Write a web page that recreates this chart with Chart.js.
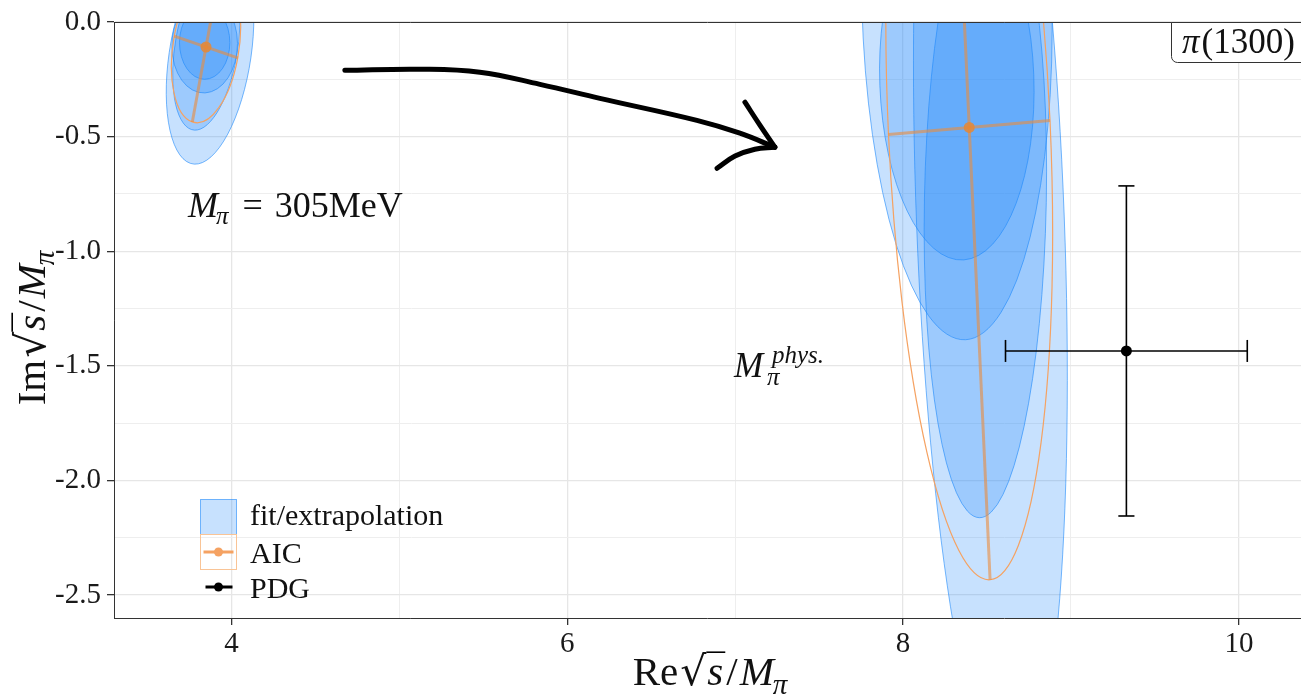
<!DOCTYPE html>
<html>
<head>
<meta charset="utf-8">
<script src="https://cdn.jsdelivr.net/npm/chart.js@4.4.0/dist/chart.umd.min.js"></script>
<style>
  html, body { margin: 0; padding: 0; background: #fff; }
  #wrap { width: 1301px; height: 697px; position: relative; }
</style>
</head>
<body>
<div id="wrap"><canvas id="chart"></canvas></div>
<script>
// fit/extrapolation confidence regions (centre, semi-axes, tilt in degrees)
const fitCx  = [3.872, 3.850, 3.840, 3.840, 8.520, 8.320, 8.490, 8.320];
const fitCy  = [-0.145, -0.110, -0.100, -0.090, -0.865, 0.095, -0.777, -0.254];
const fitRx  = [0.240, 0.185, 0.195, 0.150, 0.440, 0.566, 0.363, 0.459];
const fitRy  = [0.486, 0.370, 0.210, 0.160, 2.485, 1.482, 1.386, 0.785];
const fitRot = [-14, -14, -10, 0, 3, 2, -1.5, 3];

// AIC average (centre, semi-axes, tilt)
const aicCx  = [3.848, 8.394];
const aicCy  = [-0.109, -0.460];
const aicRx  = [0.195, 0.482];
const aicRy  = [0.337, 1.977];
const aicRot = [-14, 3.6];

// PDG pi(1300)
const pdgX    = [9.33];
const pdgY    = [-1.435];
const pdgXErr = [0.72];
const pdgYErr = [0.72];

// hand drawn arrow
const arrowX   = [4.675, 5.122, 5.479, 5.837, 6.194, 6.772, 7.028, 7.236];
const arrowY   = [-0.211, -0.206, -0.219, -0.272, -0.333, -0.429, -0.485, -0.546];
const barbUpX  = [7.058, 7.148, 7.236];
const barbUpY  = [-0.350, -0.451, -0.546];
const barbLoX  = [6.892, 6.999, 7.117, 7.236];
const barbLoY  = [-0.638, -0.585, -0.555, -0.546];

const xTicks = [4, 6, 8, 10];
const xTickLabels = ['4', '6', '8', '10'];
const yTicks = [0, -0.5, -1, -1.5, -2, -2.5];
const yTickLabels = ['0.0', '-0.5', '-1.0', '-1.5', '-2.0', '-2.5'];

const SERIF = '"Liberation Serif", "Times New Roman", serif';
const BLUE_FILL = 'rgba(30,136,250,0.25)';
const BLUE_EDGE = 'rgba(30,136,250,0.6)';
const ORANGE = '#f5a262';
const capSize = 0.048;

function pts(xs, ys) {
    return xs.map((x, i) => ({ x: x, y: ys[i] }));
}

function line(data, color, width, extra) {
    return Object.assign({
        data: data, showLine: true, borderColor: color, borderWidth: width,
        pointRadius: 0, clip: 0
    }, extra || {});
}

// AIC cross = principal axes of the AIC ellipse
const aicLines = [];
aicCx.forEach((cx, i) => {
    const r = aicRot[i] * Math.PI / 180;
    const cy = aicCy[i];
    aicLines.push(line([
        { x: cx + aicRy[i] * Math.sin(r), y: cy - aicRy[i] * Math.cos(r) },
        { x: cx - aicRy[i] * Math.sin(r), y: cy + aicRy[i] * Math.cos(r) }
    ], 'rgba(235,140,60,0.6)', 3));
    aicLines.push(line([
        { x: cx - aicRx[i] * Math.cos(r), y: cy - aicRx[i] * Math.sin(r) },
        { x: cx + aicRx[i] * Math.cos(r), y: cy + aicRx[i] * Math.sin(r) }
    ], 'rgba(235,140,60,0.6)', 3));
});

const pdgLines = [];
pdgX.forEach((x, i) => {
    const y = pdgY[i], ex = pdgXErr[i], ey = pdgYErr[i];
    pdgLines.push(line([{ x: x - ex, y: y }, { x: x + ex, y: y }], '#000', 1.6));
    pdgLines.push(line([{ x: x, y: y - ey }, { x: x, y: y + ey }], '#000', 1.6));
    pdgLines.push(line([{ x: x - ex, y: y - capSize }, { x: x - ex, y: y + capSize }], '#000', 1.6));
    pdgLines.push(line([{ x: x + ex, y: y - capSize }, { x: x + ex, y: y + capSize }], '#000', 1.6));
    pdgLines.push(line([{ x: x - capSize, y: y + ey }, { x: x + capSize, y: y + ey }], '#000', 1.6));
    pdgLines.push(line([{ x: x - capSize, y: y - ey }, { x: x + capSize, y: y - ey }], '#000', 1.6));
});

const arrowStyle = { tension: 0.4, borderCapStyle: 'round', borderJoinStyle: 'round', clip: false };
const arrowLines = [
    line(pts(arrowX, arrowY), '#000', 5, arrowStyle),
    line(pts(barbUpX, barbUpY), '#000', 5, arrowStyle),
    line(pts(barbLoX, barbLoY), '#000', 5, arrowStyle)
];

function traceEllipse(ctx, chart, cx, cy, rx, ry, rotDeg) {
    const xs = chart.scales.x, ys = chart.scales.y;
    const px = xs.getPixelForValue(cx), py = ys.getPixelForValue(cy);
    const kx = xs.getPixelForValue(cx + 1) - px;
    const ky = ys.getPixelForValue(cy + 1) - py;
    ctx.save();
    ctx.translate(px, py);
    ctx.scale(kx, ky);
    ctx.rotate(rotDeg * Math.PI / 180);
    ctx.beginPath();
    ctx.ellipse(0, 0, rx, ry, 0, 0, Math.PI * 2);
    ctx.restore();
}

// draws text pieces one after another from (x, baseline y)
function richWidth(ctx, parts) {
    let w = 0;
    parts.forEach(p => { ctx.font = p.f; w += (p.gap || 0) + ctx.measureText(p.t).width; });
    return w;
}
function drawRich(ctx, parts, x, y) {
    let cx = x;
    parts.forEach(p => {
        cx += p.gap || 0;
        ctx.font = p.f;
        const w = ctx.measureText(p.t).width;
        ctx.fillText(p.t, cx, y + (p.dy || 0));
        if (p.over) {
            ctx.beginPath();
            ctx.lineWidth = 1.6;
            ctx.moveTo(cx - 1, y + p.over);
            ctx.lineTo(cx + w + 2, y + p.over);
            ctx.stroke();
        }
        cx += w;
    });
}

function titleParts(first, size) {
    const up = size + 'px ' + SERIF;
    const it = 'italic ' + size + 'px ' + SERIF;
    const sub = 'italic ' + Math.round(size * 0.7) + 'px ' + SERIF;
    return [
        { t: first, f: up },
        { t: '\u221A', f: size + 'px "DejaVu Serif", serif', gap: 2 },
        { t: 's', f: it, over: -size * 0.8, gap: 1 },
        { t: '/', f: up, gap: 3 },
        { t: 'M', f: it, gap: 2 },
        { t: '\u03C0', f: sub, dy: size * 0.22, gap: -1 }
    ];
}

const decor = {
    id: 'decor',
    beforeDatasetsDraw(chart) {
        const { ctx, chartArea: a } = chart;
        ctx.save();
        ctx.beginPath();
        ctx.rect(a.left, a.top, a.right - a.left, a.bottom - a.top);
        ctx.clip();
        fitCx.forEach((cx, i) => {
            traceEllipse(ctx, chart, cx, fitCy[i], fitRx[i], fitRy[i], fitRot[i]);
            ctx.fillStyle = BLUE_FILL;
            ctx.fill();
            ctx.strokeStyle = BLUE_EDGE;
            ctx.lineWidth = 1;
            ctx.stroke();
        });
        aicCx.forEach((cx, i) => {
            traceEllipse(ctx, chart, cx, aicCy[i], aicRx[i], aicRy[i], aicRot[i]);
            ctx.strokeStyle = ORANGE;
            ctx.lineWidth = 1.2;
            ctx.stroke();
        });
        ctx.restore();
    },
    afterDraw(chart) {
        const { ctx, chartArea: a } = chart;
        ctx.save();

        // top border of panel
        ctx.strokeStyle = '#333';
        ctx.lineWidth = 1;
        ctx.beginPath();
        ctx.moveTo(a.left, a.top + 0.5);
        ctx.lineTo(chart.width, a.top + 0.5);
        ctx.stroke();

        // pi(1300) box
        const bx = 1171.5, by = a.top + 0.5, bb = 62.5, br = 6;
        ctx.beginPath();
        ctx.moveTo(bx, by);
        ctx.lineTo(bx, bb - br);
        ctx.arcTo(bx, bb, bx + br, bb, br);
        ctx.lineTo(1320, bb);
        ctx.lineTo(1320, by);
        ctx.closePath();
        ctx.fillStyle = '#fff';
        ctx.fill();
        ctx.strokeStyle = '#333';
        ctx.stroke();
        ctx.fillStyle = '#111';
        ctx.textBaseline = 'alphabetic';
        ctx.textAlign = 'left';
        drawRich(ctx, [
            { t: '\u03C0', f: 'italic 35px ' + SERIF },
            { t: '(1300)', f: '35px ' + SERIF, gap: 2 }
        ], 1182, 53);

        // M_pi = 305MeV
        drawRich(ctx, [
            { t: 'M', f: 'italic 36px ' + SERIF },
            { t: '\u03C0', f: 'italic 25px ' + SERIF, dy: 7, gap: -2 },
            { t: '=', f: '36px ' + SERIF, gap: 14 },
            { t: '305MeV', f: '36px ' + SERIF, gap: 12 }
        ], 188, 217);

        // M_pi^phys.
        ctx.font = 'italic 35px ' + SERIF;
        ctx.fillText('M', 734, 377);
        ctx.font = 'italic 25px ' + SERIF;
        ctx.fillText('phys.', 772, 363);
        ctx.fillText('\u03C0', 767, 385);

        // legend
        const lx = 200.5, ly = 499.5;
        ctx.fillStyle = BLUE_FILL;
        ctx.fillRect(lx, ly, 36, 35);
        ctx.strokeStyle = BLUE_EDGE;
        ctx.lineWidth = 1;
        ctx.strokeRect(lx, ly, 36, 35);
        ctx.strokeStyle = '#f9c496';
        ctx.strokeRect(lx, ly + 35, 36, 35);
        ctx.strokeStyle = ORANGE;
        ctx.lineWidth = 3;
        ctx.beginPath(); ctx.moveTo(lx + 3, ly + 52.5); ctx.lineTo(lx + 33, ly + 52.5); ctx.stroke();
        ctx.fillStyle = ORANGE;
        ctx.beginPath(); ctx.arc(lx + 18, ly + 52.5, 4.5, 0, Math.PI * 2); ctx.fill();
        ctx.strokeStyle = '#000';
        ctx.beginPath(); ctx.moveTo(lx + 5, ly + 87.5); ctx.lineTo(lx + 32, ly + 87.5); ctx.stroke();
        ctx.fillStyle = '#000';
        ctx.beginPath(); ctx.arc(lx + 18, ly + 87.5, 4.5, 0, Math.PI * 2); ctx.fill();
        ctx.fillStyle = '#111';
        ctx.font = '30px ' + SERIF;
        ctx.fillText('fit/extrapolation', 250, 525);
        ctx.fillText('AIC', 250, 563);
        ctx.fillText('PDG', 250, 598);

        // axis titles
        const tx = titleParts('Re', 41);
        const wx = richWidth(ctx, tx);
        drawRich(ctx, tx, 710 - wx / 2, 685);

        const ty = titleParts('Im', 41);
        const wy = richWidth(ctx, ty);
        ctx.translate(45, (a.top + a.bottom) / 2 + 8);
        ctx.rotate(-Math.PI / 2);
        drawRich(ctx, ty, -wy / 2, 0);

        ctx.restore();
    }
};

function isMajor(vals, v) {
    return vals.some(t => Math.abs(t - v) < 1e-9);
}

const tickFont = { family: SERIF, size: 29 };

const ctx = document.getElementById('chart').getContext('2d');

const chart = new Chart(ctx, {
    type: 'scatter',
    data: {
        datasets: [
            {
                data: pts(aicCx, aicCy), pointRadius: 5.5, pointBorderWidth: 0,
                pointBackgroundColor: 'rgba(232,135,50,0.85)', showLine: false
            },
            {
                data: pts(pdgX, pdgY), pointRadius: 5.5, pointBorderWidth: 0,
                pointBackgroundColor: '#000', showLine: false
            },
            ...pdgLines,
            ...aicLines,
            ...arrowLines
        ]
    },
    options: {
        responsive: true,
        maintainAspectRatio: false,
        animation: false,
        layout: { autoPadding: false, padding: { top: 22, right: 0, bottom: 0, left: 0 } },
        plugins: {
            legend: { display: false },
            tooltip: { enabled: false }
        },
        scales: {
            x: {
                type: 'linear',
                min: 3.30,
                max: 10.37,
                afterFit: (s) => { s.height = 79; s.paddingLeft = 0; s.paddingRight = 0; },
                ticks: {
                    stepSize: 1,
                    includeBounds: false,
                    autoSkip: false,
                    maxRotation: 0,
                    padding: 2,
                    color: '#1a1a1a',
                    font: tickFont,
                    callback: (v) => {
                        const i = xTicks.findIndex(t => Math.abs(t - v) < 1e-9);
                        return i >= 0 ? xTickLabels[i] : '';
                    }
                },
                grid: {
                    color: (c) => c.tick && isMajor(xTicks, c.tick.value) ? '#e6e6e6' : '#eeeeee',
                    lineWidth: (c) => c.tick && isMajor(xTicks, c.tick.value) ? 1.3 : 1,
                    tickColor: (c) => c.tick && isMajor(xTicks, c.tick.value) ? '#333' : 'rgba(0,0,0,0)',
                    tickLength: 7
                },
                border: { display: true, color: '#333', width: 1 }
            },
            y: {
                type: 'linear',
                min: -2.6,
                max: 0,
                afterFit: (s) => { s.width = 114; s.paddingTop = 0; s.paddingBottom = 0; },
                ticks: {
                    stepSize: 0.25,
                    includeBounds: false,
                    autoSkip: false,
                    padding: 6,
                    color: '#1a1a1a',
                    font: tickFont,
                    callback: (v) => {
                        const i = yTicks.findIndex(t => Math.abs(t - v) < 1e-9);
                        return i >= 0 ? yTickLabels[i] : '';
                    }
                },
                grid: {
                    color: (c) => c.tick && isMajor(yTicks, c.tick.value) ? '#e6e6e6' : '#eeeeee',
                    lineWidth: (c) => c.tick && isMajor(yTicks, c.tick.value) ? 1.3 : 1,
                    tickColor: (c) => c.tick && isMajor(yTicks, c.tick.value) ? '#333' : 'rgba(0,0,0,0)',
                    tickLength: 7
                },
                border: { display: true, color: '#333', width: 1 }
            }
        }
    },
    plugins: [decor]
});
</script>
</body>
</html>
